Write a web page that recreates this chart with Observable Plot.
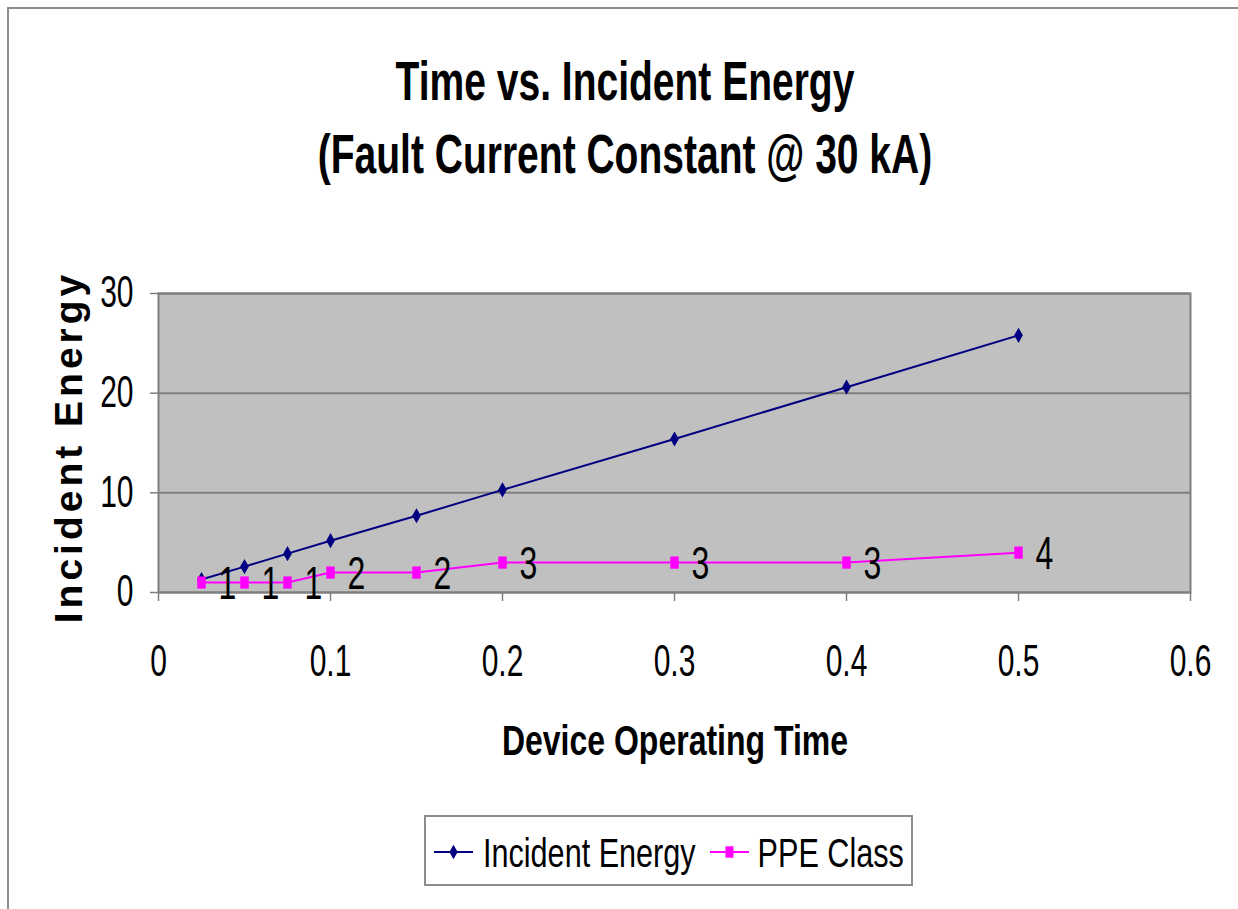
<!DOCTYPE html>
<html>
<head>
<meta charset="utf-8">
<script src="https://cdn.jsdelivr.net/npm/d3@7"></script>
<script src="https://cdn.jsdelivr.net/npm/@observablehq/plot@0.6"></script>
<style>
  html, body { margin: 0; padding: 0; background: #fff; width: 1238px; height: 909px; overflow: hidden; }
  body { position: relative; font-family: "Liberation Sans", Arial, sans-serif; color: #000; }
  #border { position: absolute; left: 7px; top: 7px; width: 1300px; height: 1000px; border: 2px solid #8c8c8c; box-sizing: border-box; pointer-events: none; z-index: 5; }
  #chart { position: absolute; left: 0; top: 0; z-index: 1; }
  .title { position: absolute; left: 0; width: 1250px; text-align: center; font-weight: bold; font-size: 39px; line-height: 39px; white-space: nowrap; transform: scaleY(1.43); z-index: 3; }
  #xlabel { position: absolute; left: 0; width: 1350px; top: 724px; text-align: center; font-weight: bold; font-size: 32px; line-height: 32px; white-space: nowrap; transform: scaleY(1.35); z-index: 3; }
  #ylabel { position: absolute; left: -131px; top: 427px; width: 400px; height: 40px; line-height: 40px; text-align: center; font-weight: bold; font-size: 39px; letter-spacing: 4px; white-space: nowrap; transform: rotate(-90deg); z-index: 3; }
  #legend { position: absolute; left: 424px; top: 815px; width: 489px; height: 71px; border: 2px solid #8c8c8c; box-sizing: border-box; background: #fff; display: flex; align-items: center; padding-left: 8px; z-index: 3; }
  #legend .item { display: flex; align-items: center; }
  #legend .lab { display: inline-block; font-size: 30.6px; line-height: 31px; transform: scaleY(1.3); white-space: nowrap; margin-top: 6px; }
</style>
</head>
<body>
<div id="border"></div>
<div id="chart"></div>
<div class="title" id="t1" style="top:61px"></div>
<div class="title" id="t2" style="top:134px"></div>
<div id="xlabel"></div>
<div id="ylabel"></div>
<div id="legend"></div>
<script>
// ---- data ----
const titleLines = ["Time vs. Incident Energy", "(Fault Current Constant @ 30 kA)"];
const xLabel = "Device Operating Time";
const yLabel = "Incident Energy";
const seriesNames = ["Incident Energy", "PPE Class"];
const seriesColors = ["#000080", "#ff00ff"];
const times = [0.025, 0.05, 0.075, 0.1, 0.15, 0.2, 0.3, 0.4, 0.5];
const incidentEnergy = [1.3, 2.6, 3.9, 5.2, 7.7, 10.3, 15.4, 20.6, 25.8];
const ppeClass = [1, 1, 1, 2, 2, 3, 3, 3, 4];
const ppeLabels = ["1", "1", "1", "2", "2", "3", "3", "3", "4"];
const xTicks = [0, 0.1, 0.2, 0.3, 0.4, 0.5, 0.6];
const yTicks = [0, 10, 20, 30];

const rows = times.map((t, i) => ({time: t, energy: incidentEnergy[i], ppe: ppeClass[i], label: ppeLabels[i]}));

// tall rectangle marker (as in the reference)
const tallRect = {
  draw(context, size) {
    const s = Math.sqrt(size);
    const w = s * 0.8, h = s * 1.15;
    context.rect(-w / 2, -h / 2, w, h);
  }
};

const gridColor = "#7f7f7f";

const chart = Plot.plot({
  width: 1238,
  height: 909,
  marginLeft: 158,
  marginRight: 48,
  marginTop: 293,
  marginBottom: 317,
  x: {domain: [0, 0.6]},
  y: {domain: [0, 30]},
  style: {fontFamily: "'Liberation Sans', Arial, sans-serif", fontSize: "30px", color: "#000", background: "none", overflow: "visible"},
  marks: [
    Plot.frame({fill: "#c0c0c0"}),
    Plot.gridY(yTicks, {stroke: gridColor, strokeOpacity: 1, strokeWidth: 2}),
    Plot.frame({stroke: gridColor, strokeWidth: 2}),
    Plot.axisX(xTicks, {tickSize: 9, tickPadding: 44, stroke: gridColor, strokeWidth: 1.5, fontSize: 30, label: null, tickFormat: d => String(d)}),
    Plot.axisY(yTicks, {tickSize: 8, tickPadding: 17, stroke: gridColor, strokeWidth: 1.5, fontSize: 30, label: null, tickFormat: d => String(d)}),
    Plot.line(rows, {x: "time", y: "energy", stroke: seriesColors[0], strokeWidth: 2}),
    Plot.dot(rows, {x: "time", y: "energy", symbol: "diamond", r: 4.6, fill: seriesColors[0], stroke: "none"}),
    Plot.line(rows, {x: "time", y: "ppe", stroke: seriesColors[1], strokeWidth: 2}),
    Plot.dot(rows, {x: "time", y: "ppe", symbol: tallRect, r: 6, fill: seriesColors[1], stroke: "none"}),
    Plot.text(rows, {x: "time", y: "ppe", text: "label", textAnchor: "start", dx: 17, dy: 2, fontSize: 32, fill: "#000"})
  ]
});

// stretch text vertically, like the reference's tall narrow type
function stretch(svg, sy) {
  svg.querySelectorAll("text").forEach(t => {
    const tr = t.getAttribute("transform");
    if (tr) {
      t.setAttribute("transform", tr + ` scale(1,${sy})`);
    } else {
      const x = parseFloat(t.getAttribute("x")) || 0, y = parseFloat(t.getAttribute("y")) || 0;
      t.setAttribute("transform", `translate(${x},${y}) scale(1,${sy}) translate(${-x},${-y})`);
    }
  });
}
stretch(chart, 1.45);
document.getElementById("chart").appendChild(chart);

// titles and axis labels
document.getElementById("t1").textContent = titleLines[0];
document.getElementById("t2").textContent = titleLines[1];
document.getElementById("xlabel").textContent = xLabel;
document.getElementById("ylabel").textContent = yLabel;

// legend
const legend = d3.select("#legend");
const symbols = [d3.symbol(d3.symbolDiamond, 60)(), d3.symbol(tallRect, 100)()];
const gaps = [[10, 14], [9, 0]];
seriesNames.forEach((name, i) => {
  const item = legend.append("div").attr("class", "item").style("margin-right", gaps[i][1] + "px");
  const sw = item.append("svg").attr("width", 39).attr("height", 20).style("margin-right", gaps[i][0] + "px").style("margin-top", "2px");
  sw.append("line").attr("x1", 0).attr("x2", 39).attr("y1", 10).attr("y2", 10).attr("stroke", seriesColors[i]).attr("stroke-width", 2);
  sw.append("path").attr("d", symbols[i]).attr("transform", "translate(19.5,10)").attr("fill", seriesColors[i]);
  item.append("span").attr("class", "lab").text(name);
});
</script>
</body>
</html>
